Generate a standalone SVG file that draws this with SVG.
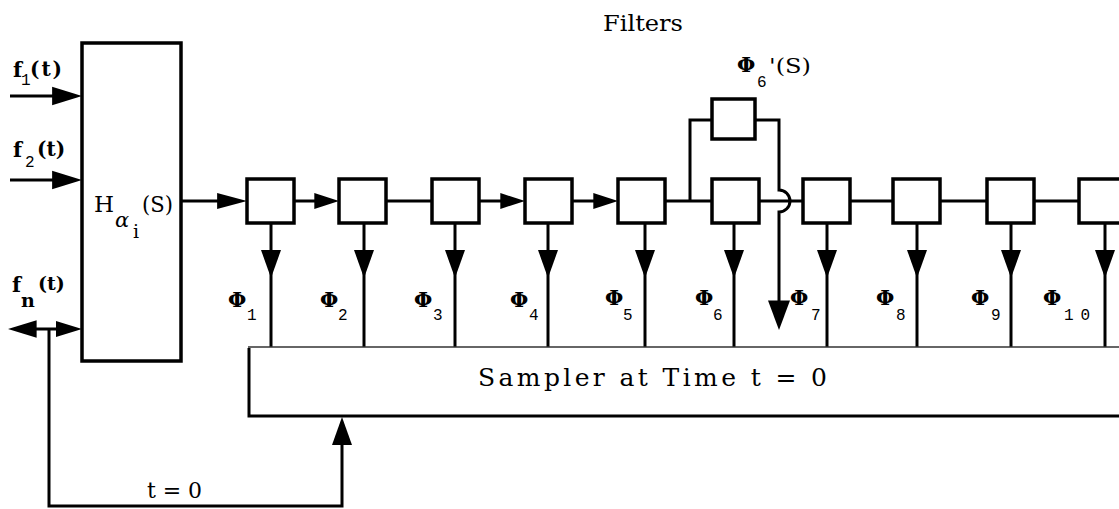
<svg xmlns="http://www.w3.org/2000/svg" width="1119" height="509" viewBox="0 0 1119 509">
<style>
.ln{stroke:#000;stroke-width:3;fill:none}
.thin{stroke:#333;stroke-width:1.5;fill:none}
.bx{stroke:#000;stroke-width:3.5;fill:#fff}
.ah{fill:#000;stroke:none}
.t{font-family:"DejaVu Serif","Liberation Serif",serif;fill:#000}
.b{font-weight:bold}
.phi{font-family:"DejaVu Serif","Liberation Serif",serif;font-weight:bold;font-size:21px}
.sub{font-family:"Liberation Mono",monospace;font-size:16px}
</style>
<defs>
<path id="ar" d="M0,0 L-26,-8 L-26,8 Z"/>
<path id="ad" d="M0,0 L-10,-28 L10,-28 Z"/>
</defs>

<g id="connectors">
  <line class="ln" x1="10" y1="96" x2="60" y2="96"/>
  <use href="#ar" class="ah" transform="translate(82,96) scale(1.15)"/>
  <line class="ln" x1="10" y1="180" x2="60" y2="180"/>
  <use href="#ar" class="ah" transform="translate(82,180) scale(1.15)"/>
  <line class="ln" x1="20" y1="329" x2="70" y2="329"/>
  <use href="#ar" class="ah" transform="translate(82,329) scale(1)"/>
  <use href="#ar" class="ah" transform="translate(8,329) rotate(180) scale(1.1)"/>
  <path class="ln" d="M49,329 V506 H342 V440"/>
  <use href="#ad" class="ah" transform="translate(342,417) rotate(180)"/>
  <line class="ln" x1="181" y1="201" x2="230" y2="201"/>
  <use href="#ar" class="ah" transform="translate(247,201) scale(1.15,1)"/>
  <line class="ln" x1="294" y1="201" x2="325" y2="201"/>
  <use href="#ar" class="ah" transform="translate(339,201) scale(0.95,1)"/>
  <line class="ln" x1="386" y1="201" x2="432" y2="201"/>
  <line class="ln" x1="479" y1="201" x2="510" y2="201"/>
  <use href="#ar" class="ah" transform="translate(525,201) scale(0.95,1)"/>
  <line class="ln" x1="572" y1="201" x2="603" y2="201"/>
  <use href="#ar" class="ah" transform="translate(618,201) scale(0.95,1)"/>
  <line class="ln" x1="665" y1="201" x2="712" y2="201"/>
  <line class="ln" x1="759" y1="201" x2="803" y2="201"/>
  <line class="ln" x1="850" y1="201" x2="893" y2="201"/>
  <line class="ln" x1="940" y1="201" x2="987" y2="201"/>
  <line class="ln" x1="1034" y1="201" x2="1079" y2="201"/>
  <path class="ln" d="M690,201 V120 H712"/>
  <path class="ln" d="M755,120 H779 V190 A11,11 0 0 1 779,212 V305"/>
  <use href="#ad" class="ah" transform="translate(779,330) scale(1.1,1.05)"/>
  <g class="ln">
    <line x1="271" y1="223" x2="271" y2="347"/>
    <line x1="364" y1="223" x2="364" y2="347"/>
    <line x1="455" y1="223" x2="455" y2="347"/>
    <line x1="548" y1="223" x2="548" y2="347"/>
    <line x1="645" y1="223" x2="645" y2="347"/>
    <line x1="734" y1="223" x2="734" y2="347"/>
    <line x1="827" y1="223" x2="827" y2="347"/>
    <line x1="917" y1="223" x2="917" y2="347"/>
    <line x1="1011" y1="223" x2="1011" y2="347"/>
    <line x1="1105" y1="223" x2="1105" y2="347"/>
  </g>
  <use href="#ad" class="ah" transform="translate(271,278)"/>
  <use href="#ad" class="ah" transform="translate(364,278)"/>
  <use href="#ad" class="ah" transform="translate(455,278)"/>
  <use href="#ad" class="ah" transform="translate(548,278)"/>
  <use href="#ad" class="ah" transform="translate(645,278)"/>
  <use href="#ad" class="ah" transform="translate(734,278)"/>
  <use href="#ad" class="ah" transform="translate(827,278)"/>
  <use href="#ad" class="ah" transform="translate(917,278)"/>
  <use href="#ad" class="ah" transform="translate(1011,278)"/>
  <use href="#ad" class="ah" transform="translate(1105,278)"/>
</g>

<g id="inputs-labels">
  <text class="t b" x="13" y="77" font-size="21">f</text>
  <text class="sub" x="21" y="85" font-size="14">1</text>
  <text class="t b" x="30" y="76" font-size="20" textLength="32" lengthAdjust="spacing">(t)</text>
  <text class="t b" x="13" y="157" font-size="21">f</text>
  <text class="sub" x="25" y="167" font-size="15">2</text>
  <text class="t b" x="37" y="156" font-size="20">(t)</text>
  <text class="t b" x="12" y="292" font-size="21">f</text>
  <text class="t b" x="21" y="307" font-size="19">n</text>
  <text class="t b" x="38" y="290" font-size="19">(t)</text>
</g>

<g id="H">
  <rect class="bx" x="82" y="43" width="99" height="318"/>
  <text class="t" x="94" y="212" font-size="23">H</text>
  <text class="t" x="115" y="227" font-size="21" font-style="italic">α</text>
  <text class="t" x="133" y="238" font-size="19">i</text>
  <text class="t" x="142" y="212" font-size="22" textLength="31" lengthAdjust="spacingAndGlyphs">(S)</text>
</g>

<g id="title"><text class="t" x="603" y="31" font-size="22" textLength="80" lengthAdjust="spacingAndGlyphs">Filters</text></g>

<g id="filter1"><rect class="bx" x="247" y="179" width="47" height="44"/><text class="phi" x="228" y="307">Φ</text><text class="sub" x="247" y="320">1</text></g>
<g id="filter2"><rect class="bx" x="339" y="179" width="47" height="44"/><text class="phi" x="320" y="307">Φ</text><text class="sub" x="338" y="320">2</text></g>
<g id="filter3"><rect class="bx" x="432" y="179" width="47" height="44"/><text class="phi" x="414" y="307">Φ</text><text class="sub" x="433" y="320">3</text></g>
<g id="filter4"><rect class="bx" x="525" y="179" width="47" height="44"/><text class="phi" x="510" y="307">Φ</text><text class="sub" x="529" y="320">4</text></g>
<g id="filter5"><rect class="bx" x="618" y="179" width="47" height="44"/><text class="phi" x="605" y="305">Φ</text><text class="sub" x="623" y="320">5</text></g>
<g id="filter6"><rect class="bx" x="712" y="179" width="47" height="44"/><text class="phi" x="695" y="305">Φ</text><text class="sub" x="713" y="320">6</text></g>
<g id="filter6p"><rect class="bx" x="712" y="99" width="43" height="40"/><text class="phi" x="737" y="72">Φ</text><text class="sub" x="757" y="87">6</text><text class="t" x="769" y="73" font-size="21" textLength="42" lengthAdjust="spacingAndGlyphs">'(S)</text></g>
<g id="filter7"><rect class="bx" x="803" y="179" width="47" height="44"/><text class="phi" x="790" y="305">Φ</text><text class="sub" x="811" y="320">7</text></g>
<g id="filter8"><rect class="bx" x="893" y="179" width="47" height="44"/><text class="phi" x="876" y="305">Φ</text><text class="sub" x="896" y="320">8</text></g>
<g id="filter9"><rect class="bx" x="987" y="179" width="47" height="44"/><text class="phi" x="971" y="305">Φ</text><text class="sub" x="991" y="320">9</text></g>
<g id="filter10"><rect class="bx" x="1079" y="179" width="60" height="44"/><text class="phi" x="1043" y="305">Φ</text><text class="sub" x="1064" y="320" textLength="26" lengthAdjust="spacing">10</text></g>

<g id="sampler">
  <path class="thin" d="M248,347 H1119"/>
  <path class="ln" d="M249,348 V416 H1119"/>
  <text class="t" x="478" y="386" font-size="25" textLength="349" lengthAdjust="spacing">Sampler at Time t = 0</text>
</g>

<g id="t0"><text class="t" x="147" y="498" font-size="22" textLength="55" lengthAdjust="spacing">t = 0</text></g>
</svg>
